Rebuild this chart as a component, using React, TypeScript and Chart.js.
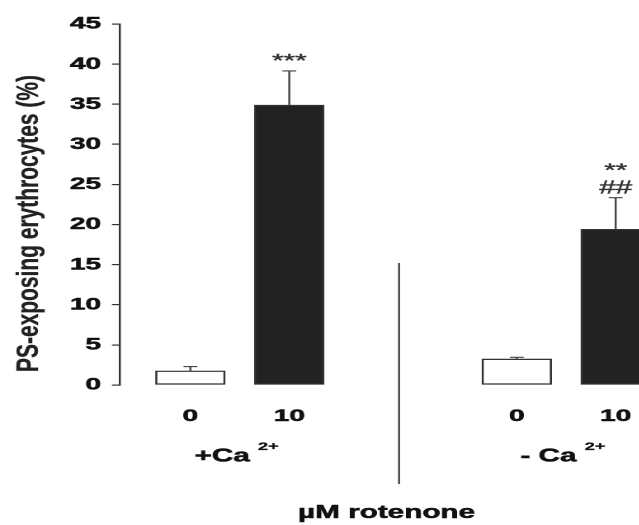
import React, { useEffect, useRef } from 'react';
import { Chart, registerables } from 'chart.js';

Chart.register(...registerables);

// ---- data ----
const doseLabels = ['0', '10'];
const groupNames = ['+Ca', '- Ca'];
const groupSup = '2+';
const values = [1.75, 34.9, 3.24, 19.4];
const errors = [0.55, 4.25, 0.21, 3.95];
const sigLabels: string[][] = [[], ['***'], [], ['**', '##']];
const yTicks = [0, 5, 10, 15, 20, 25, 30, 35, 40, 45];
const yTitle = 'PS-exposing erythrocytes (%)';
const xTitle = 'µM rotenone';

// ---- layout / style ----
const STRETCH = 1.65; // the original figure is horizontally stretched
const W = 388;
const H = 525;
const GROUP_STEP = 3.3;
const FONT = '"Liberation Sans", Arial, Helvetica, sans-serif';
const Y_TITLE_LEN = 297;

const xPositions = values.map((_, i) => Math.floor(i / 2) * GROUP_STEP + (i % 2));

function heavyText(ctx: any, t: string, x: number, y: number, sw: number) {
  ctx.fillText(t, x, y);
  if (sw > 0) {
    ctx.lineWidth = sw;
    ctx.strokeStyle = ctx.fillStyle;
    ctx.strokeText(t, x, y);
  }
}

const decor = {
  id: 'decor',
  afterDatasetsDraw(chart: any) {
    const { ctx } = chart;
    const x = chart.scales.x;
    const y = chart.scales.y;
    const meta = chart.getDatasetMeta(0);
    ctx.save();

    // error bars + significance marks
    meta.data.forEach((bar: any, i: number) => {
      const cx = bar.x;
      const yBar = y.getPixelForValue(values[i]);
      const yTop = y.getPixelForValue(values[i] + errors[i]);
      ctx.strokeStyle = '#444';
      ctx.lineWidth = 1.2;
      ctx.beginPath();
      ctx.moveTo(cx, yBar);
      ctx.lineTo(cx, yTop);
      ctx.moveTo(cx - 4.2, yTop);
      ctx.lineTo(cx + 4.2, yTop);
      ctx.stroke();

      const lines = sigLabels[i];
      ctx.fillStyle = '#333';
      ctx.font = `18px ${FONT}`;
      ctx.textAlign = 'center';
      ctx.textBaseline = 'alphabetic';
      lines.forEach((t, k) => {
        const off = (lines.length - 1 - k) * 17;
        heavyText(ctx, t, cx, yTop - 4 - off, 0.4);
      });
    });

    // divider between groups
    const divX = x.getPixelForValue((GROUP_STEP + 1) / 2) - 2.4;
    ctx.strokeStyle = '#333';
    ctx.lineWidth = 1.1;
    ctx.beginPath();
    ctx.moveTo(divX, 263);
    ctx.lineTo(divX, 484);
    ctx.stroke();

    // group labels with superscript
    ctx.fillStyle = '#111';
    ctx.textBaseline = 'alphabetic';
    ctx.textAlign = 'left';
    groupNames.forEach((name, g) => {
      const cx = x.getPixelForValue(g * GROUP_STEP + 0.5) - 2;
      ctx.font = `bold 18px ${FONT}`;
      const main = name + ' ';
      const wMain = ctx.measureText(main).width;
      ctx.font = `bold 11px ${FONT}`;
      const wSup = ctx.measureText(groupSup).width;
      const start = cx - (wMain + wSup) / 2;
      ctx.font = `bold 18px ${FONT}`;
      heavyText(ctx, main, start, 461.5, 0.5);
      ctx.font = `bold 11px ${FONT}`;
      heavyText(ctx, groupSup, start + wMain, 450, 0.3);
    });

    // x title
    ctx.font = `bold 18px ${FONT}`;
    ctx.textAlign = 'center';
    heavyText(ctx, xTitle, divX - 7.6, 518, 0.5);

    // y title (condensed bold, as in the original)
    ctx.font = `bold 18.6px ${FONT}`;
    const tw = ctx.measureText(yTitle).width;
    ctx.translate(23.0, 223.5);
    ctx.rotate(-Math.PI / 2);
    ctx.scale(Y_TITLE_LEN / tw, 1);
    ctx.textAlign = 'center';
    ctx.textBaseline = 'alphabetic';
    ctx.fillStyle = '#222';
    heavyText(ctx, yTitle, 0, 0, 0.2);

    ctx.restore();
  },
};

export default function App() {
  const ref = useRef<HTMLCanvasElement | null>(null);

  useEffect(() => {
    if (!ref.current) return;
    const chart = new Chart(ref.current, {
      type: 'bar',
      data: {
        datasets: [
          {
            data: values.map((v, i) => ({ x: xPositions[i], y: v })),
            backgroundColor: values.map((_, i) => (i % 2 === 0 ? '#ffffff' : '#222222')),
            borderColor: '#333333',
            borderWidth: 1.3,
            borderSkipped: false,
            barThickness: 42,
          } as any,
        ],
      },
      options: {
        animation: false,
        responsive: false,
        devicePixelRatio: 2,
        layout: { padding: { top: 24, left: 0, right: 0, bottom: 0 } },
        plugins: { legend: { display: false }, tooltip: { enabled: false } },
        scales: {
          x: {
            type: 'linear',
            min: -0.712,
            max: 4.548,
            offset: false,
            afterBuildTicks: (s: any) => {
              s.ticks = xPositions.map((v) => ({ value: v }));
            },
            afterFit: (s: any) => {
              s.height = 140;
              s.paddingLeft = 0;
              s.paddingRight = 0;
            },
            grid: { display: false, drawTicks: false },
            border: { display: false },
            ticks: {
              padding: 21,
              color: '#111',
              autoSkip: false,
              maxRotation: 0,
              textStrokeColor: '#111',
              textStrokeWidth: 0.5,
              font: { family: FONT, size: 17, weight: 'bold' },
              callback: (_v: any, idx: number) => doseLabels[idx % 2],
            },
          },
          y: {
            min: 0,
            max: 45,
            afterBuildTicks: (s: any) => {
              s.ticks = yTicks.map((v) => ({ value: v }));
            },
            afterFit: (s: any) => {
              s.width = 72.7;
            },
            grid: {
              display: true,
              drawOnChartArea: false,
              drawTicks: true,
              tickLength: 4.85,
              color: '#333',
              lineWidth: 1.2,
            },
            border: { display: true, color: '#333', width: 1.2 },
            ticks: {
              padding: 6.6,
              color: '#111',
              textStrokeColor: '#111',
              textStrokeWidth: 0.5,
              font: { family: FONT, size: 17, weight: 'bold' },
            },
          },
        } as any,
      },
      plugins: [decor],
    });
    return () => chart.destroy();
  }, []);

  return (
    <div
      style={{
        position: 'fixed',
        left: 0,
        top: 0,
        width: 639,
        height: 525,
        overflow: 'hidden',
        background: '#fff',
      }}
    >
      <div style={{ transform: `scaleX(${STRETCH})`, transformOrigin: '0 0', width: W, height: H }}>
        <canvas ref={ref} width={W} height={H} style={{ display: 'block' }} />
      </div>
    </div>
  );
}
